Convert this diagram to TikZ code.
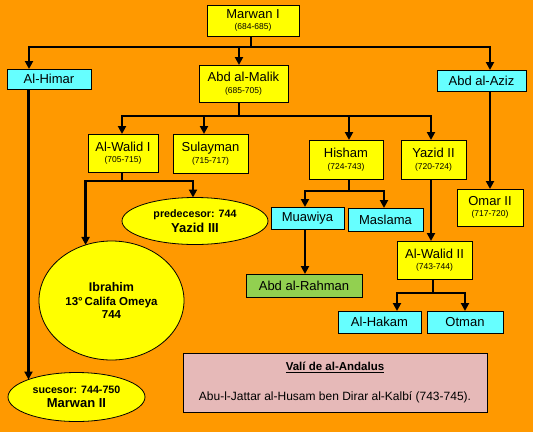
\documentclass[tikz,border=0pt]{standalone}
\usepackage{fontspec}
\setmainfont{Liberation Sans}
\usetikzlibrary{arrows.meta,shapes.geometric}
\definecolor{bg}{HTML}{FF9900}
\definecolor{yel}{HTML}{FFFF00}
\definecolor{cya}{HTML}{66FFFF}
\definecolor{grn}{HTML}{92D050}
\definecolor{pnk}{HTML}{E6B9B8}
\newcommand\yrsline[1]{\\{\fontsize{8.5}{11.5}\selectfont #1}}
\begin{document}
\begin{tikzpicture}[x=1pt,y=-1pt,
  box/.style={draw=black,line width=0.8pt,inner sep=0pt,outer sep=0pt,align=center,font=\fontsize{13}{11.5}\selectfont},
  ybox/.style={box,fill=yel},
  cbox/.style={box,fill=cya},
  oval/.style={ellipse,draw=black,line width=0.8pt,fill=yel,inner sep=0pt,outer sep=0pt,align=center},
  conn/.style={line width=2.5pt,draw=black},
  arr/.style={conn,-{Triangle[width=8pt,length=8pt]}}]
\fill[bg] (0,0) rectangle (533,432);
\useasboundingbox (0,0) rectangle (533,432);

% boxes
\node[ybox,minimum width=92pt,minimum height=31pt] (marwan) at (253,20.5) {Marwan I\yrsline{(684-685)}};
\node[cbox,minimum width=84pt,minimum height=20pt] (himar) at (49,79) {Al-Himar};
\node[ybox,minimum width=89pt,minimum height=37pt] (malik) at (243.5,83.5) {Abd al-Malik\yrsline{(685-705)}};
\node[cbox,minimum width=89pt,minimum height=21pt] (aziz) at (481.5,80.5) {Abd al-Aziz};
\node[ybox,minimum width=70pt,minimum height=38pt] (walid1) at (123,153) {Al-Walid I\yrsline{(705-715)}};
\node[ybox,minimum width=75pt,minimum height=39pt] (sulayman) at (210.5,153.5) {Sulayman\yrsline{(715-717)}};
\node[ybox,minimum width=74pt,minimum height=39pt] (hisham) at (346,159.5) {Hisham\yrsline{(724-743)}};
\node[ybox,minimum width=65pt,minimum height=39pt] (yazid2) at (433.5,159.5) {Yazid II\yrsline{(720-724)}};
\node[ybox,minimum width=66pt,minimum height=37pt] (omar) at (490,207.5) {Omar II\yrsline{(717-720)}};
\node[cbox,minimum width=73pt,minimum height=22pt] (muawiya) at (307.5,218) {Muawiya};
\node[cbox,minimum width=75pt,minimum height=23pt] (maslama) at (385.5,219.5) {Maslama};
\node[box,fill=grn,minimum width=116pt,minimum height=23pt] (abdrahman) at (304,285.5) {Abd al-Rahman};
\node[ybox,minimum width=75pt,minimum height=38pt] (walid2) at (434.5,260) {Al-Walid II\yrsline{(743-744)}};
\node[cbox,minimum width=83pt,minimum height=22pt] (hakam) at (379.5,322) {Al-Hakam};
\node[cbox,minimum width=76pt,minimum height=22pt] (otman) at (465,322) {Otman};
\node[box,fill=pnk,minimum width=304pt,minimum height=59pt,font=\fontsize{12}{14}\selectfont] (wali) at (335,382.5)
  {{\fontsize{11.5}{14}\selectfont\bfseries\underline{Valí de al-Andalus}}\\[16pt]Abu-l-Jattar al-Husam ben Dirar al-Kalbí (743-745).};

% ellipses
\node[oval,minimum width=146pt,minimum height=47pt,font=\fontsize{13}{14.5}\selectfont\bfseries] (yazid3) at (195,221)
  {{\fontsize{10.7}{14.5}\selectfont predecesor: 744}\\Yazid III};
\node[oval,minimum width=145pt,minimum height=119pt,font=\fontsize{11.5}{13.5}\selectfont\bfseries] (ibrahim) at (111.5,300.5)
  {{\fontsize{12.5}{13.5}\selectfont Ibrahim}\\13°\,Califa Omeya\\744};
\node[oval,minimum width=137pt,minimum height=49pt,font=\fontsize{13}{14}\selectfont\bfseries] (marwan2) at (76.5,397)
  {{\fontsize{10.7}{14}\selectfont sucesor: 744-750}\\Marwan II};

% connectors
\draw[conn] ([xshift=-2pt]marwan.south) -- ++(0,11) coordinate (j1);
\draw[arr] (j1) -| ([xshift=-20pt]himar.north);
\draw[arr] (j1) -| ([xshift=8.5pt]aziz.north);
\draw[arr] (j1) -| ([xshift=-4.5pt]malik.north);

\draw[conn] ([xshift=-4.5pt]malik.south) -- ++(0,14) coordinate (j2);
\draw[arr] (j2) -| ([xshift=-1pt]walid1.north);
\draw[arr] (j2) -| ([xshift=-6.5pt]sulayman.north);
\draw[arr] (j2) -| ([xshift=3pt]hisham.north);
\draw[arr] (j2) -| ([xshift=-2.5pt]yazid2.north);

\draw[arr] ([xshift=8.5pt]aziz.south) -- (omar.north);

\draw[conn] ([xshift=-1pt]walid1.south) -- ++(0,9) coordinate (j3);
\draw[arr] (j3) -| (ibrahim.115);
\draw[arr] (j3) -| ([xshift=-2pt]yazid3.north);

\draw[conn] ([xshift=3pt]hisham.south) -- ++(0,12) coordinate (j4);
\draw[arr] (j4) -| ([xshift=-2.5pt]muawiya.north);
\draw[arr] (j4) -| ([xshift=-1.5pt]maslama.north);
\draw[arr] ([xshift=-2.5pt]muawiya.south) -- ([xshift=1pt]abdrahman.north);

\draw[arr] ([xshift=-2.5pt]yazid2.south) -- ([xshift=-3.5pt]walid2.north);
\draw[conn] ([xshift=-1.5pt]walid2.south) -- ++(0,14) coordinate (j5);
\draw[arr] (j5) -| ([xshift=17.5pt]hakam.north);
\draw[arr] (j5) -| (otman.north);

\draw[arr] (marwan2.160 |- himar.south) -- (marwan2.160);
\end{tikzpicture}
\end{document}
